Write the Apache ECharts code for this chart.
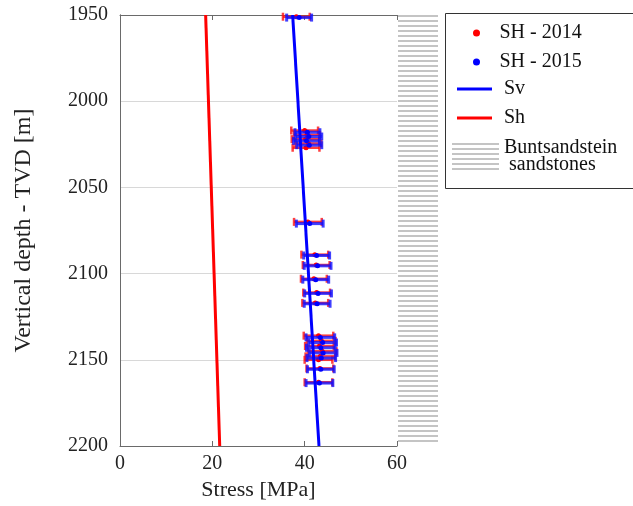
<!DOCTYPE html>
<html>
<head>
<meta charset="utf-8">
<script src="https://cdn.jsdelivr.net/npm/echarts@6/dist/echarts.min.js"></script>
<style>
  html, body { margin: 0; padding: 0; background: #fff; }
  #chart { width: 633px; height: 506px; }
</style>
</head>
<body>
<div id="chart"></div>
<script>
// stress ticks and depth range
var stressTicks = [0, 20, 40, 60];
var depthTicks = [1950, 2000, 2050, 2100, 2150, 2200];

// SH 2014 measurements (depth m, stress MPa, half error MPa)
var sh2014Depth = [1951, 2017, 2019.5, 2022, 2024.5, 2027, 2070, 2089, 2095, 2103, 2111, 2117, 2136, 2139, 2142, 2145, 2148, 2150, 2155, 2163];
var sh2014Stress = [38.2, 40.0, 40.5, 40.2, 40.8, 40.3, 40.7, 42.2, 42.5, 42.0, 42.6, 42.3, 43.0, 43.6, 43.2, 43.8, 43.4, 43.0, 43.3, 43.0];
var sh2014Err = [2.9, 2.9, 2.8, 3.0, 2.8, 2.9, 3.0, 2.9, 2.9, 2.8, 2.9, 2.8, 3.2, 3.1, 3.1, 3.1, 3.2, 3.0, 2.9, 3.0];

// SH 2015 measurements
var sh2015Depth = [1951.5, 2018, 2020.5, 2023, 2025.5, 2071, 2089.5, 2095.5, 2103.5, 2111.5, 2117.5, 2137, 2140, 2143, 2146, 2149, 2155.5, 2163.5];
var sh2015Stress = [38.8, 40.6, 40.9, 40.4, 41.0, 41.1, 42.6, 42.8, 42.4, 42.9, 42.7, 43.4, 43.9, 43.5, 44.0, 43.6, 43.5, 43.2];
var sh2015Err = [2.7, 2.7, 2.8, 2.8, 2.7, 2.9, 2.8, 2.9, 2.8, 2.9, 2.8, 3.1, 3.0, 3.1, 3.0, 3.1, 2.9, 2.9];

// gradient lines [stress, depth]
var svLine = [[37.4, 1950], [43.1, 2200]];
var shLine = [[18.55, 1950], [21.6, 2200]];

// sandstone interval
var sandstone = [[0, 1950, 1, 2200]];

var serif = 'Liberation Serif';

var chart = echarts.init(document.getElementById('chart'));

// hatch pattern
var pc = document.createElement('canvas');
pc.width = 8; pc.height = 5;
var pctx = pc.getContext('2d');
pctx.fillStyle = '#ffffff';
pctx.fillRect(0, 0, 8, 5);
pctx.fillStyle = '#c4c4c4';
pctx.fillRect(0, 0, 8, 2);
var hatch = { image: pc, repeat: 'repeat' };

function zip(s, d, e) {
  return s.map(function(v, i) { return [v, d[i], e[i]]; });
}

function errorBars(color, width) {
  return function(params, api) {
    var s = api.value(0), d = api.value(1), e = api.value(2);
    var a = api.coord([s - e, d]);
    var b = api.coord([s + e, d]);
    var h = 4;
    var st = { stroke: color, lineWidth: width, opacity: 0.8 };
    return {
      type: 'group',
      children: [
        { type: 'line', shape: { x1: a[0], y1: a[1], x2: b[0], y2: b[1] }, style: st },
        { type: 'line', shape: { x1: a[0], y1: a[1] - h, x2: a[0], y2: a[1] + h }, style: st },
        { type: 'line', shape: { x1: b[0], y1: b[1] - h, x2: b[0], y2: b[1] + h }, style: st }
      ]
    };
  };
}

var axisCol = '#6a6a6a';
var plain = function(v) { return String(v); };
var legendText = { fontFamily: serif, fontSize: 20, color: '#111' };
var lineLegendText = {
  fontFamily: serif, fontSize: 20, color: '#111',
  rich: { t: { fontFamily: serif, fontSize: 20, color: '#111', padding: [0, 0, 0, 7] } }
};

chart.setOption({
  animation: false,
  backgroundColor: '#fff',
  textStyle: { fontFamily: serif },
  grid: [
    { left: 120, top: 15, width: 277, height: 432 },
    { left: 398, top: 14, width: 40, height: 430 }
  ],
  xAxis: [
    {
      type: 'value', gridIndex: 0, min: stressTicks[0], max: stressTicks[stressTicks.length - 1], interval: 20,
      name: 'Stress [MPa]', nameLocation: 'middle', nameGap: 33,
      nameTextStyle: { fontFamily: serif, fontSize: 22, color: '#222' },
      axisLine: { lineStyle: { color: axisCol } },
      axisTick: { inside: true, length: 5, lineStyle: { color: axisCol } },
      axisLabel: { fontFamily: serif, fontSize: 20, color: '#222', margin: 8, formatter: plain },
      splitLine: { show: false }
    },
    {
      type: 'value', gridIndex: 0, position: 'top', min: 0, max: 60, interval: 20,
      axisLine: { lineStyle: { color: axisCol } },
      axisTick: { inside: true, length: 5, lineStyle: { color: axisCol } },
      axisLabel: { show: false },
      splitLine: { show: false }
    },
    { type: 'value', gridIndex: 1, min: 0, max: 1, show: false }
  ],
  yAxis: [
    {
      type: 'value', gridIndex: 0, inverse: true, min: depthTicks[0], max: depthTicks[depthTicks.length - 1], interval: 50,
      name: 'Vertical depth - TVD [m]', nameLocation: 'middle', nameGap: 84,
      nameTextStyle: { fontFamily: serif, fontSize: 24, color: '#222' },
      axisLine: { lineStyle: { color: axisCol } },
      axisTick: { show: false },
      axisLabel: { fontFamily: serif, fontSize: 20, color: '#222', margin: 12, formatter: plain },
      splitLine: { lineStyle: { color: '#d8d8d8', width: 1 } }
    },
    {
      type: 'value', gridIndex: 0, position: 'right', inverse: true, min: 1950, max: 2200, interval: 50,
      axisLine: { lineStyle: { color: axisCol } },
      axisTick: { show: false },
      axisLabel: { show: false },
      splitLine: { show: false }
    },
    { type: 'value', gridIndex: 1, inverse: true, min: 1950, max: 2200, show: false }
  ],
  legend: [
    {
      orient: 'vertical', left: 473, top: 23, padding: 0,
      itemWidth: 36, itemHeight: 7, itemGap: 9,
      data: ['SH - 2014', 'SH - 2015'],
      textStyle: legendText
    },
    {
      orient: 'vertical', left: 457, top: 79, padding: 0,
      itemWidth: 35, itemHeight: 3, itemGap: 9, icon: 'rect',
      data: ['Sv', 'Sh'],
      formatter: function(name) { return '{t|' + name + '}'; },
      textStyle: lineLegendText
    },
    {
      orient: 'vertical', left: 452, top: 138, padding: 0,
      itemWidth: 47, itemHeight: 27, icon: 'rect',
      data: ['Buntsandstein sandstones'],
      formatter: function() { return 'Buntsandstein\n sandstones'; },
      textStyle: { fontFamily: serif, fontSize: 20, lineHeight: 17, color: '#111' }
    }
  ],
  graphic: [
    {
      type: 'rect', left: 445, top: 13, z: -1,
      shape: { width: 188, height: 175 },
      style: { fill: '#fff', stroke: '#333', lineWidth: 1 }
    }
  ],
  series: [
    {
      name: 'Buntsandstein sandstones', type: 'custom', xAxisIndex: 2, yAxisIndex: 2,
      data: sandstone, encode: { x: [0, 2], y: [1, 3] },
      itemStyle: { color: hatch },
      renderItem: function(params, api) {
        var p0 = api.coord([api.value(0), api.value(1)]);
        var p1 = api.coord([api.value(2), api.value(3)]);
        return { type: 'rect', shape: { x: p0[0], y: p0[1], width: p1[0] - p0[0], height: p1[1] - p0[1] }, style: { fill: hatch } };
      }
    },
    {
      name: 'Sh', type: 'line', data: shLine, symbol: 'none',
      lineStyle: { color: '#ff0000', width: 3 }, itemStyle: { color: '#ff0000' }, z: 3
    },
    {
      name: 'err2014', type: 'custom', data: zip(sh2014Stress, sh2014Depth, sh2014Err),
      encode: { x: 0, y: 1 }, renderItem: errorBars('#ff1010', 2.5), z: 4
    },
    {
      name: 'SH - 2014', type: 'scatter', data: zip(sh2014Stress, sh2014Depth, sh2014Err),
      symbolSize: 5, itemStyle: { color: '#ff0000', opacity: 1 }, z: 5
    },
    {
      name: 'err2015', type: 'custom', data: zip(sh2015Stress, sh2015Depth, sh2015Err),
      encode: { x: 0, y: 1 }, renderItem: errorBars('#1010ff', 3), z: 6
    },
    {
      name: 'SH - 2015', type: 'scatter', data: zip(sh2015Stress, sh2015Depth, sh2015Err),
      symbolSize: 5, itemStyle: { color: '#0000ff', opacity: 1 }, z: 7
    },
    {
      name: 'Sv', type: 'line', data: svLine, symbol: 'none',
      lineStyle: { color: '#0000ff', width: 3 }, itemStyle: { color: '#0000ff' }, z: 8
    }
  ]
});
</script>
</body>
</html>
